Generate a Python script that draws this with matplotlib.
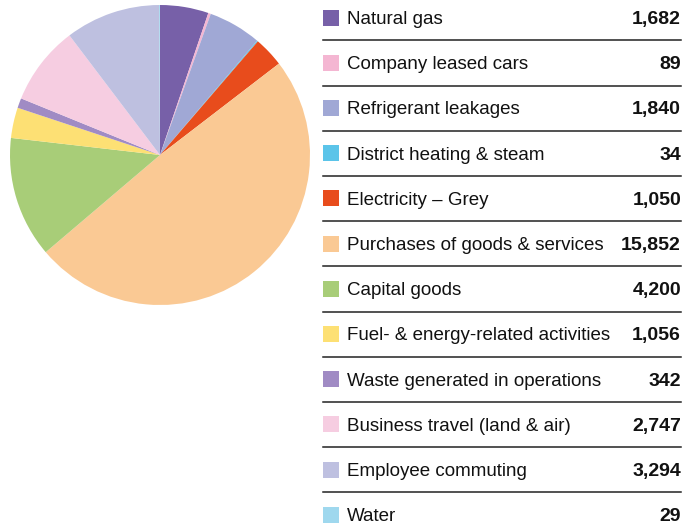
import matplotlib
matplotlib.use("Agg")
import matplotlib.pyplot as plt
from matplotlib.patches import Rectangle

plt.rcParams['font.family'] = ['Liberation Sans', 'DejaVu Sans']

categories = ["Natural gas", "Company leased cars", "Refrigerant leakages",
              "District heating & steam", "Electricity \u2013 Grey",
              "Purchases of goods & services", "Capital goods",
              "Fuel- & energy-related activities", "Waste generated in operations",
              "Business travel (land & air)", "Employee commuting", "Water"]
emissions = [1682, 89, 1840, 34, 1050, 15852, 4200, 1056, 342, 2747, 3294, 29]
colors = ["#7760a8", "#f4b6d2", "#a0a8d5", "#5bc4e9", "#e84c1c", "#fac994",
          "#a8cd78", "#fde074", "#a08bc4", "#f6cde1", "#bec0e0", "#9fd8ee"]

W, H = 690, 528
fig = plt.figure(figsize=(W / 100, H / 100), dpi=100)

# pie: centre (160,155), radius 150 px
pax = fig.add_axes([10 / W, (H - 305) / H, 300 / W, 300 / H])
pax.pie(emissions, colors=colors, startangle=90, counterclock=False,
        radius=1.0, wedgeprops=dict(linewidth=0))
pax.set_xlim(-1, 1)
pax.set_ylim(-1, 1)
pax.set_aspect("equal")
pax.axis("off")

# legend table in pixel coords
lax = fig.add_axes([0, 0, 1, 1])
lax.set_xlim(0, W)
lax.set_ylim(H, 0)
lax.axis("off")

row0, step = 17.5, 45.2
for i, (name, val, c) in enumerate(zip(categories, emissions, colors)):
    y = row0 + i * step
    lax.add_patch(Rectangle((323, y - 8), 16, 16, color=c, lw=0))
    lax.text(347, y + 6.5, name, fontsize=13.5, va="baseline", ha="left", color="#111111")
    lax.text(681, y + 6.5, f"{val:,}", fontsize=14, fontweight="bold",
             va="baseline", ha="right", color="#111111")
    if i < len(categories) - 1:
        lax.plot([323, 681], [y + 22.8, y + 22.8], color="#222222", lw=1.1)

fig.savefig("out.png", dpi=100)
